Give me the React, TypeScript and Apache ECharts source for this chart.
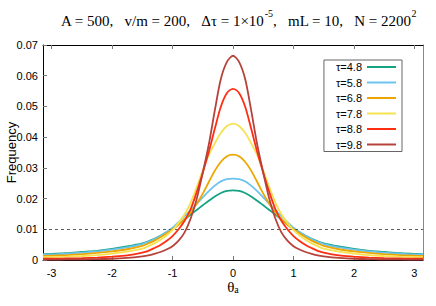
import React, { useEffect, useRef } from "react";
import * as echarts from "echarts";

const thetas = [-3.1416, -3, -2.75, -2.5, -2.25, -2, -1.75, -1.5, -1.4, -1.3, -1.2, -1.1, -1, -0.9, -0.8, -0.7, -0.6, -0.5, -0.4, -0.3, -0.2, -0.1, 0, 0.1, 0.2, 0.3, 0.4, 0.5, 0.6, 0.7, 0.8, 0.9, 1, 1.1, 1.2, 1.3, 1.4, 1.5, 1.75, 2, 2.25, 2.5, 2.75, 3, 3.1416];

const tau48 = [0.0019, 0.0020, 0.0022, 0.0026, 0.0030, 0.0036, 0.0044, 0.0054, 0.0061, 0.0069, 0.0079, 0.0090, 0.0102, 0.0116, 0.0131, 0.0148, 0.0163, 0.0178, 0.0193, 0.0207, 0.0218, 0.0225, 0.0227, 0.0225, 0.0218, 0.0207, 0.0193, 0.0178, 0.0163, 0.0148, 0.0131, 0.0116, 0.0102, 0.0090, 0.0079, 0.0069, 0.0061, 0.0054, 0.0044, 0.0036, 0.0030, 0.0026, 0.0022, 0.0020, 0.0019];
const tau58 = [0.0018, 0.0018, 0.0021, 0.0024, 0.0028, 0.0034, 0.0041, 0.0052, 0.0059, 0.0068, 0.0079, 0.0091, 0.0105, 0.0123, 0.0143, 0.0163, 0.0183, 0.0204, 0.0224, 0.0242, 0.0256, 0.0263, 0.0265, 0.0263, 0.0256, 0.0242, 0.0224, 0.0204, 0.0183, 0.0163, 0.0143, 0.0123, 0.0105, 0.0091, 0.0079, 0.0068, 0.0059, 0.0052, 0.0041, 0.0034, 0.0028, 0.0024, 0.0021, 0.0018, 0.0018];
const tau68 = [0.0013, 0.0014, 0.0016, 0.0019, 0.0023, 0.0028, 0.0035, 0.0046, 0.0054, 0.0063, 0.0074, 0.0086, 0.0100, 0.0115, 0.0132, 0.0155, 0.0183, 0.0216, 0.0254, 0.0291, 0.0320, 0.0338, 0.0343, 0.0338, 0.0320, 0.0291, 0.0254, 0.0216, 0.0183, 0.0155, 0.0132, 0.0115, 0.0100, 0.0086, 0.0074, 0.0063, 0.0054, 0.0046, 0.0035, 0.0028, 0.0023, 0.0019, 0.0016, 0.0014, 0.0013];
const tau78 = [0.0009, 0.0010, 0.0011, 0.0013, 0.0016, 0.0021, 0.0027, 0.0037, 0.0045, 0.0054, 0.0066, 0.0080, 0.0097, 0.0121, 0.0149, 0.0187, 0.0237, 0.0292, 0.0342, 0.0380, 0.0414, 0.0436, 0.0444, 0.0436, 0.0414, 0.0380, 0.0342, 0.0292, 0.0237, 0.0187, 0.0149, 0.0121, 0.0097, 0.0080, 0.0066, 0.0054, 0.0045, 0.0037, 0.0027, 0.0021, 0.0016, 0.0013, 0.0011, 0.0010, 0.0009];
const tau88 = [0.0004, 0.0004, 0.0005, 0.0006, 0.0008, 0.0011, 0.0015, 0.0024, 0.0030, 0.0039, 0.0049, 0.0062, 0.0078, 0.0100, 0.0128, 0.0166, 0.0221, 0.0284, 0.0352, 0.0428, 0.0500, 0.0544, 0.0557, 0.0544, 0.0500, 0.0428, 0.0352, 0.0284, 0.0221, 0.0166, 0.0128, 0.0100, 0.0078, 0.0062, 0.0049, 0.0039, 0.0030, 0.0024, 0.0015, 0.0011, 0.0008, 0.0006, 0.0005, 0.0004, 0.0004];
const tau98 = [0.0001, 0.0001, 0.0002, 0.0002, 0.0003, 0.0004, 0.0007, 0.0012, 0.0015, 0.0020, 0.0026, 0.0034, 0.0045, 0.0063, 0.0090, 0.0135, 0.0199, 0.0284, 0.0376, 0.0488, 0.0590, 0.0645, 0.0665, 0.0645, 0.0590, 0.0488, 0.0376, 0.0284, 0.0199, 0.0135, 0.0090, 0.0063, 0.0045, 0.0034, 0.0026, 0.0020, 0.0015, 0.0012, 0.0007, 0.0004, 0.0003, 0.0002, 0.0002, 0.0001, 0.0001];

const seriesNames = ["τ=4.8", "τ=5.8", "τ=6.8", "τ=7.8", "τ=8.8", "τ=9.8"];
const seriesValues = [tau48, tau58, tau68, tau78, tau88, tau98];
const colors = ["#13a383", "#6cc4ee", "#eda600", "#f6e250", "#ff2e12", "#b6423c"];
const xTicks = [-3, -2, -1, 0, 1, 2, 3];
const yMin = 0;
const yMax = 0.07;
const yStep = 0.01;
const thresholdLine = 0.01;

export default function App() {
  const ref = useRef<HTMLDivElement>(null);
  useEffect(() => {
    if (!ref.current) return;
    const chart = echarts.init(ref.current, null, { renderer: "svg" });
    const sans = "Liberation Sans";
    const serif = "Liberation Serif";
    const series: any[] = seriesValues.map((vals, i) => ({
      name: seriesNames[i],
      type: "line",
      xAxisIndex: 0,
      yAxisIndex: 0,
      data: thetas.map((t, j) => [t, vals[j]]),
      showSymbol: false,
      symbol: "none",
      smooth: 0.3,
      lineStyle: { color: colors[i], width: 1.8 },
      itemStyle: { color: colors[i] },
      z: 3 + i,
    }));
    series[0].markLine = {
      silent: true,
      symbol: "none",
      label: { show: false },
      lineStyle: { color: "#333", type: [3, 3], width: 0.8 },
      data: [{ yAxis: thresholdLine }],
    };
    chart.setOption({
      animation: false,
      backgroundColor: "#fff",
      title: {
        text: "{a|A = 500,   v/m = 200,   Δτ = 1×10}{s|-5}{a|,   mL = 10,   N = 2200}{s|2}",
        left: 56,
        top: 3,
        textStyle: {
          fontWeight: "normal",
          rich: {
            a: { fontFamily: serif, fontSize: 15, fontWeight: "normal", color: "#000", lineHeight: 20, verticalAlign: "bottom" },
            s: { fontFamily: serif, fontSize: 10, fontWeight: "normal", color: "#000", lineHeight: 20, verticalAlign: "top" },
          },
        },
      },
      legend: {
        orient: "vertical",
        right: 34,
        top: 60,
        align: "right",
        icon: "rect",
        itemWidth: 29,
        itemHeight: 2,
        itemGap: 3.5,
        padding: [1, 6, 1, 12],
        borderColor: "#666",
        borderWidth: 1,
        backgroundColor: "#fff",
        textStyle: { fontFamily: sans, fontSize: 11, color: "#000", lineHeight: 12 },
        data: seriesNames,
      },
      grid: { left: 43, right: 13, top: 45, bottom: 46, outerBoundsMode: "none", containLabel: false },
      xAxis: [
        {
          type: "value",
          min: -3.1416,
          max: 3.1416,
          name: "{t|θ}{s|a}",
          nameLocation: "middle",
          nameGap: 20,
          nameMoveOverlap: false,
          nameTextStyle: {
            rich: {
              t: { fontFamily: serif, fontSize: 15, color: "#000", verticalAlign: "bottom", lineHeight: 14 },
              s: { fontFamily: serif, fontSize: 10, color: "#000", verticalAlign: "bottom", lineHeight: 10 },
            },
          },
          axisLine: { show: true, onZero: false, lineStyle: { color: "#000", width: 1 } },
          axisTick: { show: true, inside: true, length: 4, customValues: xTicks, lineStyle: { color: "#777" } },
          axisLabel: { customValues: xTicks, fontFamily: sans, fontSize: 11, color: "#000", margin: 7, lineHeight: 12 },
          splitLine: { show: false },
        },
        {
          type: "value",
          position: "top",
          min: -3.1416,
          max: 3.1416,
          axisLine: { show: true, onZero: false, lineStyle: { color: "#000", width: 1 } },
          axisTick: { show: true, inside: true, length: 4, customValues: xTicks, lineStyle: { color: "#777" } },
          axisLabel: { show: false },
          splitLine: { show: false },
        },
      ],
      yAxis: [
        {
          type: "value",
          min: yMin,
          max: yMax,
          interval: yStep,
          name: "Frequency",
          nameLocation: "middle",
          nameGap: 25,
          nameMoveOverlap: false,
          nameTextStyle: { fontFamily: sans, fontSize: 13, color: "#000" },
          axisLine: { show: true, onZero: false, lineStyle: { color: "#000", width: 1 } },
          axisTick: { show: true, inside: true, length: 4, lineStyle: { color: "#777" } },
          axisLabel: {
            fontFamily: sans,
            fontSize: 11,
            color: "#000",
            margin: 5,
            formatter: (v: number) => (v === 0 ? "0" : v.toFixed(2)),
          },
          splitLine: { show: false },
        },
        {
          type: "value",
          position: "right",
          min: yMin,
          max: yMax,
          interval: yStep,
          axisLine: { show: true, onZero: false, lineStyle: { color: "#888", width: 1 } },
          axisTick: { show: false },
          axisLabel: { show: false },
          splitLine: { show: false },
        },
      ],
      series,
    });
    return () => chart.dispose();
  }, []);
  return <div ref={ref} style={{ width: 436, height: 306, position: "absolute", left: 0, top: 0 }} />;
}
